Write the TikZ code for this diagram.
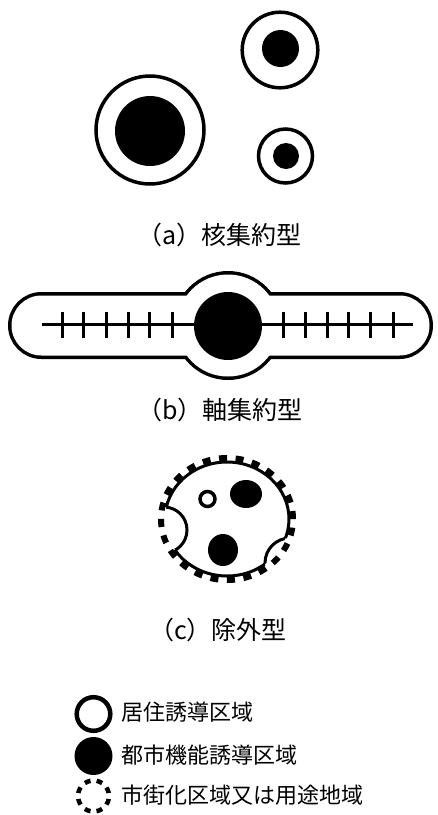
\documentclass[tikz,border=0pt]{standalone}
\usepackage{fontspec}
\setmainfont{Noto Sans CJK JP}
\begin{document}
\begin{tikzpicture}[x=1pt,y=-1pt,
  ring/.style={draw=black,line width=3.5pt},
  thinring/.style={draw=black,line width=3pt},
  capt/.style={anchor=west,inner sep=0pt,font=\fontsize{25}{30}\selectfont},
  legtext/.style={anchor=west,inner sep=0pt,font=\fontsize{22}{26}\selectfont}]
\useasboundingbox[fill=white] (0,0) rectangle (438,815);
% (a)
\draw[ring] (150,130) circle[radius=54pt];
\fill (150,131) circle[radius=35pt];
\draw[ring] (280,50) circle[radius=37.8pt];
\fill (280.5,48.5) circle[radius=18.5pt];
\draw[ring] (285.5,156) circle[radius=27pt];
\fill (286,156) circle[radius=13pt];
\node[capt] (capa) at (137,235) {（a）核集約型};
% (b)
\draw[line width=7pt, rounded corners=30pt] (11.5,295.5) rectangle (429.5,355.5);
\draw[line width=7pt] (228,325.5) circle[radius=51pt];
\fill[white, rounded corners=30pt] (11.5,295.5) rectangle (429.5,355.5);
\fill[white] (228,325.5) circle[radius=51pt];
\draw[line width=3pt] (42,324) -- (413,324);
\foreach \x in {62,83,106,128,149,172,283,305,327,348,370,393}
  \draw[line width=3pt] (\x,312) -- (\x,338);
\fill (228,326) circle[radius=34pt];
\node[capt] (capb) at (137,410) {（b）軸集約型};
% (c)
\begin{scope}[even odd rule]
  \clip (0,0) rectangle (438,815) (164,530) circle[radius=23pt] (290,563) circle[radius=25pt];
  \draw[thinring] (227,519) ellipse[x radius=62pt,y radius=57pt];
\end{scope}
\begin{scope}
  \clip (227,519) ellipse[x radius=62pt,y radius=57pt];
  \draw[thinring] (164,530) circle[radius=23pt];
  \draw[thinring] (290,563) circle[radius=25pt];
\end{scope}
\draw[line width=6pt, dash pattern=on 8pt off 8.63pt] (227,519) ellipse[x radius=66pt,y radius=61pt];
\draw[line width=3.5pt] (207.5,499) circle[radius=7.5pt];
\fill (246,494) ellipse[x radius=16pt,y radius=14pt];
\fill (223,550) ellipse[x radius=15pt,y radius=16pt];
\node[capt] (capc) at (149,630) {（c）除外型};
% legend
\draw[line width=4.5pt] (93.5,714) circle[radius=16.8pt];
\fill (93.5,756) circle[radius=19pt];
\draw[line width=4.5pt, dash pattern=on 6pt off 6.17pt, dash phase=9.17pt] (93.5,796) circle[radius=15.5pt];
\node[legtext] (l1) at (121,712) {居住誘導区域};
\node[legtext] (l2) at (121,755) {都市機能誘導区域};
\node[legtext] (l3) at (121,795) {市街化区域又は用途地域};
\end{tikzpicture}
\end{document}
